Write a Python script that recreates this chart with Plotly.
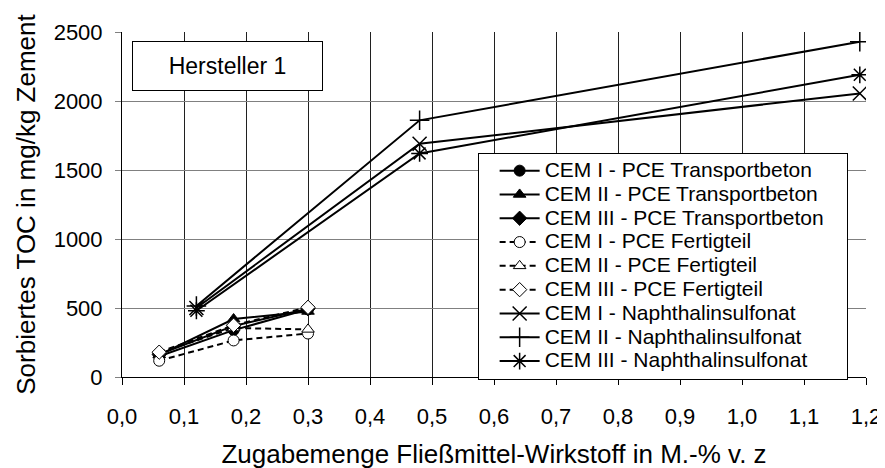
import plotly.graph_objects as go

# Zugabemenge Fließmittel-Wirkstoff in M.-% v. z
x_pce = [0.06, 0.18, 0.30]
x_naph = [0.12, 0.48, 1.19]

# Sorbiertes TOC in mg/kg Zement
cem1_pce_tb = [150, 340, 490]
cem2_pce_tb = [160, 420, 475]
cem3_pce_tb = [165, 370, 495]
cem1_pce_ft = [118, 265, 315]
cem2_pce_ft = [175, 355, 345]
cem3_pce_ft = [180, 375, 505]
cem1_naph = [500, 1690, 2055]
cem2_naph = [515, 1860, 2430]
cem3_naph = [480, 1620, 2190]

FONT = "Liberation Sans, Arial, sans-serif"

series = [
    ("CEM I - PCE Transportbeton", x_pce, cem1_pce_tb, "circle", "black", "solid"),
    ("CEM II - PCE Transportbeton", x_pce, cem2_pce_tb, "triangle-up", "black", "solid"),
    ("CEM III - PCE Transportbeton", x_pce, cem3_pce_tb, "diamond", "black", "solid"),
    ("CEM I - PCE Fertigteil", x_pce, cem1_pce_ft, "circle", "white", "dash"),
    ("CEM II - PCE Fertigteil", x_pce, cem2_pce_ft, "triangle-up", "white", "dash"),
    ("CEM III - PCE Fertigteil", x_pce, cem3_pce_ft, "diamond", "white", "dash"),
    ("CEM I - Naphthalinsulfonat", x_naph, cem1_naph, "x-thin", "black", "solid"),
    ("CEM II - Naphthalinsulfonat", x_naph, cem2_naph, "cross-thin", "black", "solid"),
    ("CEM III - Naphthalinsulfonat", x_naph, cem3_naph, "asterisk", "black", "solid"),
]

fig = go.Figure()
for name, xs, ys, symbol, fill, dash in series:
    thin = symbol in ("x-thin", "cross-thin", "asterisk")
    fig.add_trace(go.Scatter(
        x=xs, y=ys,
        mode="lines+markers",
        name=f"<span style='font-size:21px'>{name}&nbsp;&nbsp;&nbsp;</span>",
        line=dict(color="black", width=2, dash="6px,4px" if dash == "dash" else "solid"),
        marker=dict(
            symbol=symbol,
            size=14 if thin else 11,
            color=fill,
            line=dict(color="black", width=1.5 if thin else 1),
        ),
    ))

fig.add_annotation(
    text="Hersteller 1",
    xref="paper", yref="paper", x=0.1416, y=0.9025,
    xanchor="center", yanchor="middle", showarrow=False,
    width=187, height=46,
    bordercolor="black", borderwidth=1, bgcolor="white",
    font=dict(size=23, color="black", family=FONT),
)

# page body has an 8px margin, so the margins are shifted by that amount
fig.update_layout(
    width=885, height=468,
    margin=dict(l=114, r=26, t=15, b=94),
    paper_bgcolor="white", plot_bgcolor="white",
    font=dict(family=FONT, size=22, color="black"),
    separators=",.",
    showlegend=True,
    legend=dict(
        x=0.478, y=0.65, xanchor="left", yanchor="top",
        bordercolor="black", borderwidth=1, bgcolor="white",
        font=dict(size=16, family=FONT, color="black"),
        tracegroupgap=0,
        indentation=16,
        itemwidth=40,
    ),
)

fig.update_xaxes(
    range=[0, 1.2], tick0=0, dtick=0.1, tickformat=".1f",
    showgrid=True, gridcolor="#202020", gridwidth=1,
    showline=True, linecolor="black", linewidth=1,
    ticks="outside", ticklen=7, tickcolor="black",
    ticklabelstandoff=13,
    zeroline=False,
    title=dict(text="Zugabemenge Fließmittel-Wirkstoff in M.-% v. z", standoff=16),
)
fig.update_yaxes(
    range=[0, 2500], dtick=500,
    showgrid=True, gridcolor="#808080", gridwidth=1,
    showline=True, linecolor="black", linewidth=1,
    ticks="outside", ticklen=6, tickcolor="#808080",
    ticklabelstandoff=8,
    zeroline=False,
    title=dict(text="Sorbiertes TOC in mg/kg Zement", standoff=10),
)

fig.write_html("out.html")
